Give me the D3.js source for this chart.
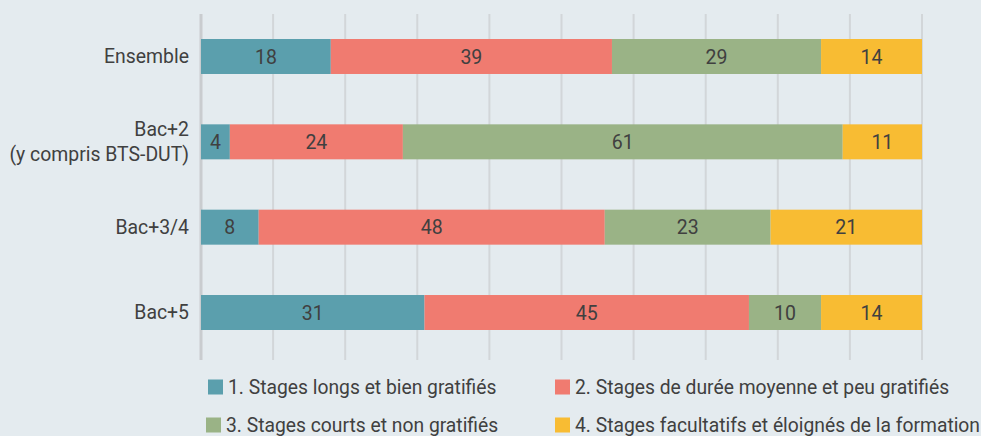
<!DOCTYPE html>
<html lang="fr">
<head>
<meta charset="utf-8">
<style>
  body { margin: 0; background: #e4ebef; }
  svg { display: block; font-family: Roboto, "Open Sans", sans-serif; }
</style>
</head>
<body>
<script src="https://cdn.jsdelivr.net/npm/d3@7"></script>
<script>
// categories (top to bottom)
var categories = ["Ensemble", "Bac+2|(y compris BTS-DUT)", "Bac+3/4", "Bac+5"];
// series, in %
var seriesNames = [
  "1. Stages longs et bien gratifiés",
  "2. Stages de durée moyenne et peu gratifiés",
  "3. Stages courts et non gratifiés",
  "4. Stages facultatifs et éloignés de la formation"
];
var longs     = [18, 4, 8, 31];
var moyens    = [39, 24, 48, 45];
var courts    = [29, 61, 23, 10];
var facult    = [14, 11, 21, 14];
var colors = ["#5b9fad", "#f07b70", "#9ab386", "#f8bc33"];
var xTicks = [0, 10, 20, 30, 40, 50, 60, 70, 80, 90, 100];

var W = 981, H = 436;
var svg = d3.select("body").append("svg")
  .attr("width", W).attr("height", H);

svg.append("rect").attr("width", W).attr("height", H).attr("fill", "#e4ebef");

var x = d3.scaleLinear().domain([0, 100]).range([201, 922]);
var y = d3.scaleBand().domain(categories).range([39, 330]).paddingInner(0.59).paddingOuter(0);

// gridlines
svg.append("g").selectAll("line")
  .data(xTicks)
  .enter().append("line")
  .attr("x1", function(d) { return x(d); })
  .attr("x2", function(d) { return x(d); })
  .attr("y1", 14).attr("y2", 360)
  .attr("stroke", function(d) { return d === 0 ? "#c9cccf" : "#d2d6d9"; })
  .attr("stroke-width", function(d) { return d === 0 ? 3 : 2; });

var values = [longs, moyens, courts, facult];
var rows = categories.map(function(c, i) {
  var r = { cat: c };
  values.forEach(function(v, k) { r["s" + k] = v[i]; });
  return r;
});
var stack = d3.stack().keys(["s0", "s1", "s2", "s3"])(rows);

var layers = svg.append("g").selectAll("g")
  .data(stack)
  .enter().append("g")
  .attr("fill", function(d, i) { return colors[i]; });

layers.selectAll("rect")
  .data(function(d) { return d; })
  .enter().append("rect")
  .attr("x", function(d) { return x(d[0]); })
  .attr("y", function(d) { return y(d.data.cat); })
  .attr("width", function(d) { return x(d[1]) - x(d[0]); })
  .attr("height", y.bandwidth());

layers.selectAll("text")
  .data(function(d) { return d; })
  .enter().append("text")
  .attr("x", function(d) { return (x(d[0]) + x(d[1])) / 2; })
  .attr("y", function(d) { return y(d.data.cat) + y.bandwidth() / 2; })
  .attr("dy", "0.36em")
  .attr("text-anchor", "middle")
  .attr("font-size", "19.5px")
  .attr("fill", "#404040")
  .text(function(d) { return d[1] - d[0]; });

// category labels
var labels = svg.append("g").selectAll("text")
  .data(categories)
  .enter().append("text")
  .attr("x", 189)
  .attr("y", function(d) { return y(d) + y.bandwidth() / 2; })
  .attr("text-anchor", "end")
  .attr("font-size", "19.4px")
  .attr("fill", "#404040");

labels.each(function(d) {
  var parts = d.split("|");
  var t = d3.select(this);
  var start = parts.length === 1 ? 0.36 : -0.3;
  parts.forEach(function(p, i) {
    t.append("tspan")
      .attr("x", 189)
      .attr("dy", i === 0 ? (start + "em") : "1.3em")
      .text(p);
  });
});

// legend
var legPos = [[208, 387], [555, 387], [206, 425], [555, 425]];
var leg = svg.append("g").selectAll("g")
  .data(seriesNames)
  .enter().append("g")
  .attr("transform", function(d, i) { return "translate(" + legPos[i][0] + "," + legPos[i][1] + ")"; });
leg.append("rect")
  .attr("x", 0).attr("y", -7.5).attr("width", 15).attr("height", 15)
  .attr("fill", function(d, i) { return colors[i]; });
leg.append("text")
  .attr("x", 20).attr("dy", "0.36em")
  .attr("font-size", "19.3px")
  .attr("fill", "#404040")
  .text(function(d) { return d; });
</script>
</body>
</html>
